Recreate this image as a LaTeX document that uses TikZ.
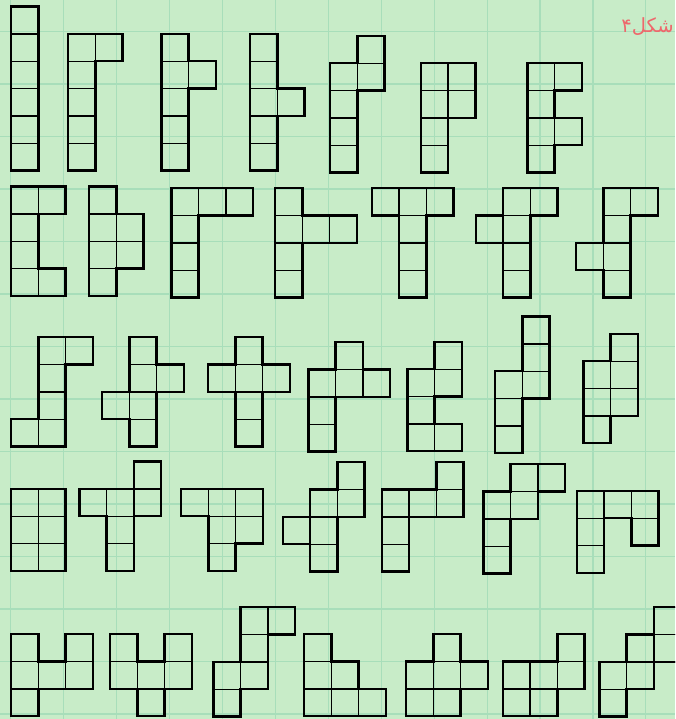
\documentclass[tikz,border=0pt]{standalone}
\usepackage{fontspec}
\newfontfamily\arabicfont[Script=Arabic]{DejaVu Sans}
\TeXXeTstate=1
\usepackage{tikz}
\usetikzlibrary{positioning}
\usepackage{xcolor}
\definecolor{fondvert}{RGB}{200,236,200}
\definecolor{grillevert}{RGB}{168,222,186}
\definecolor{rougetitre}{RGB}{238,104,108}

\makeatletter
% #1,#2 : coin haut-gauche (px), #3 : cases colonne/ligne
\newcommand\polyo[3]{%
  \gdef\cellset{}%
  \foreach \cx/\cy in {#3}{\xdef\cellset{\cellset(\cx,\cy)}}%
  \begin{scope}[shift={(#1,719-#2)},x=27.3pt,y=-27.3pt]
    \foreach \cx/\cy in {#3}{\draw[cellline] (\cx,\cy) rectangle ++(1,1);}
    \foreach \cx/\cy in {#3}{%
      \pgfmathtruncatemacro\xg{\cx-1}\pgfmathtruncatemacro\xd{\cx+1}%
      \pgfmathtruncatemacro\yh{\cy-1}\pgfmathtruncatemacro\yb{\cy+1}%
      \edef\tst{\noexpand\in@{(\xg,\cy)}{\cellset}}\tst
      \ifin@\else\draw[edgeline] (\cx,\cy) -- ++(0,1);\fi
      \edef\tst{\noexpand\in@{(\xd,\cy)}{\cellset}}\tst
      \ifin@\else\draw[edgeline] (\cx+1,\cy) -- ++(0,1);\fi
      \edef\tst{\noexpand\in@{(\cx,\yh)}{\cellset}}\tst
      \ifin@\else\draw[edgeline] (\cx,\cy) -- ++(1,0);\fi
      \edef\tst{\noexpand\in@{(\cx,\yb)}{\cellset}}\tst
      \ifin@\else\draw[edgeline] (\cx,\cy+1) -- ++(1,0);\fi
    }
  \end{scope}}
\makeatother

\begin{document}
\begin{tikzpicture}[x=1pt,y=1pt,
    gridline/.style={grillevert,line width=1.1pt},
    cellline/.style={black,line width=1.3pt},
    edgeline/.style={black,line width=2.4pt,line cap=rect}]
% Fond quadrillé
\fill[fondvert] (0,0) rectangle (675,719);
\useasboundingbox (0,0) rectangle (675,719);
\clip (0,0) rectangle (675,719);
\foreach \i in {0,...,12} \draw[gridline] ({10.5+52.95*\i},0) -- ++(0,719);
\foreach \j in {0,...,13} \draw[gridline] (0,{719-31.5-52.5*\j}) -- ++(675,0);

% Rangée 1
\polyo{11}{6.7}{0/0,0/1,0/2,0/3,0/4,0/5}
\polyo{68}{34}{0/0,1/0,0/1,0/2,0/3,0/4}
\polyo{161.3}{34}{0/0,0/1,1/1,0/2,0/3,0/4}
\polyo{250}{34}{0/0,0/1,0/2,1/2,0/3,0/4}
\polyo{330}{36}{1/0,0/1,1/1,0/2,0/3,0/4}
\polyo{420.7}{63.3}{0/0,1/0,0/1,1/1,0/2,0/3}
\polyo{527.3}{63.3}{0/0,1/0,0/1,0/2,1/2,0/3}
% Rangée 2
\polyo{11}{186.7}{0/0,1/0,0/1,0/2,0/3,1/3}
\polyo{89}{186.7}{0/0,0/1,1/1,0/2,1/2,0/3}
\polyo{171.3}{188.3}{0/0,1/0,2/0,0/1,0/2,0/3}
\polyo{275}{188.3}{0/0,0/1,1/1,2/1,0/2,0/3}
\polyo{371.7}{188.3}{0/0,1/0,2/0,1/1,1/2,1/3}
\polyo{475.7}{188.3}{1/0,2/0,0/1,1/1,1/2,1/3}
\polyo{576}{188.3}{1/0,2/0,1/1,0/2,1/2,1/3}
% Rangée 3
\polyo{11}{337.3}{1/0,2/0,1/1,1/2,0/3,1/3}
\polyo{102}{337.3}{1/0,1/1,2/1,0/2,1/2,1/3}
\polyo{208}{337.3}{1/0,0/1,1/1,2/1,1/2,1/3}
\polyo{308.3}{342.3}{1/0,0/1,1/1,2/1,0/2,0/3}
\polyo{407.3}{342}{1/0,0/1,1/1,0/2,0/3,1/3}
\polyo{495}{316.7}{1/0,1/1,0/2,1/2,0/3,0/4}
\polyo{583.3}{334}{1/0,0/1,1/1,0/2,1/2,0/3}
% Rangée 4
\polyo{11}{489}{0/0,1/0,0/1,1/1,0/2,1/2}
\polyo{79.3}{461.7}{2/0,0/1,1/1,2/1,1/2,1/3}
\polyo{181}{489}{0/0,1/0,2/0,1/1,2/1,1/2}
\polyo{282.7}{462.3}{2/0,1/1,2/1,0/2,1/2,1/3}
\polyo{381.7}{462.3}{2/0,0/1,1/1,2/1,0/2,0/3}
\polyo{483.3}{464.3}{1/0,2/0,0/1,1/1,0/2,0/3}
\polyo{576.7}{491}{0/0,1/0,2/0,0/1,2/1,0/2}
% Rangée 5
\polyo{11}{634.3}{0/0,2/0,0/1,1/1,2/1,0/2}
\polyo{110}{634.3}{0/0,2/0,0/1,1/1,2/1,1/2}
\polyo{213.3}{607.3}{1/0,2/0,1/1,0/2,1/2,0/3}
\polyo{304}{634.3}{0/0,0/1,1/1,0/2,1/2,2/2}
\polyo{406}{634.3}{1/0,0/1,1/1,2/1,0/2,1/2}
\polyo{502.7}{634.3}{2/0,0/1,1/1,2/1,0/2,1/2}
\polyo{599.3}{607.3}{2/0,1/1,2/1,0/2,1/2,0/3}

\node[font=\arabicfont\fontsize{19.5}{22}\selectfont,text=rougetitre,
      anchor=east,inner sep=0pt] (legende) at (674,692) {\beginR شکل۴\endR};
\end{tikzpicture}
\end{document}
